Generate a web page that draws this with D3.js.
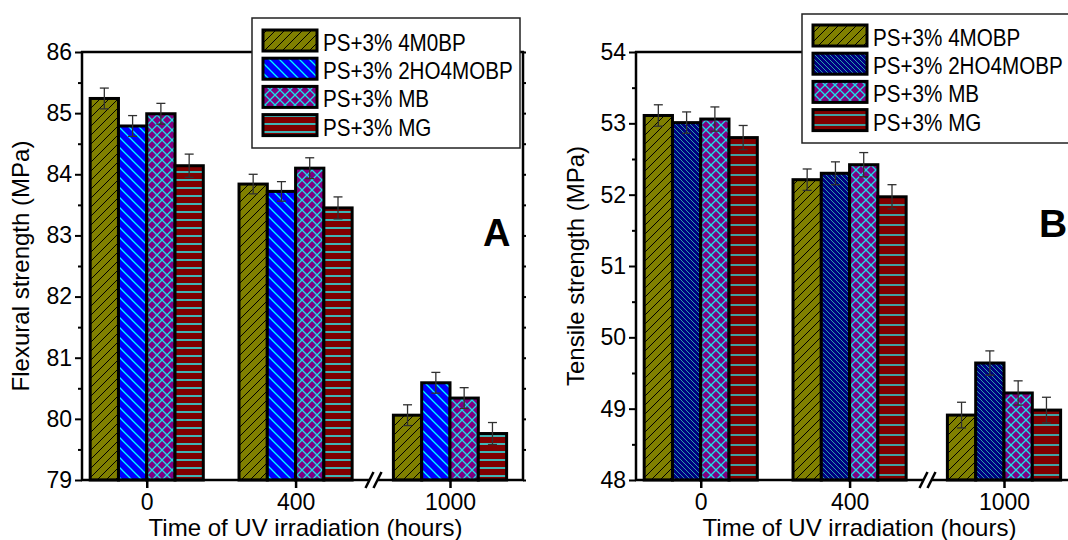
<!DOCTYPE html>
<html><head><meta charset="utf-8">
<script src="https://cdn.jsdelivr.net/npm/d3@7"></script>
<style>body{margin:0;background:#fff}svg{display:block}text{font-family:"Liberation Sans",Arial,sans-serif}</style>
</head><body><svg id="c" width="1068" height="540"></svg>
<script>
// ---------- data ----------
const times = [0, 400, 1000];
const timeLabels = ["0", "400", "1000"];
const seriesNamesA = ["PS+3% 4M0BP", "PS+3% 2HO4MOBP", "PS+3% MB", "PS+3% MG"];
const seriesNamesB = ["PS+3% 4MOBP", "PS+3% 2HO4MOBP", "PS+3% MB", "PS+3% MG"];

// Flexural strength (MPa), panel A
const flex4MOBP    = [85.24, 83.84, 80.06];
const flex2HO4MOBP = [84.79, 83.72, 80.59];
const flexMB       = [84.99, 84.10, 80.34];
const flexMG       = [84.14, 83.45, 79.76];
const flexErr4MOBP    = [0.17, 0.16, 0.17];
const flexErr2HO4MOBP = [0.17, 0.16, 0.17];
const flexErrMB       = [0.17, 0.17, 0.17];
const flexErrMG       = [0.19, 0.18, 0.18];

// Tensile strength (MPa), panel B
const tens4MOBP    = [53.11, 52.21, 48.91];
const tens2HO4MOBP = [53.01, 52.30, 49.64];
const tensMB       = [53.06, 52.42, 49.22];
const tensMG       = [52.80, 51.97, 48.98];
const tensErr4MOBP    = [0.15, 0.15, 0.18];
const tensErr2HO4MOBP = [0.15, 0.16, 0.17];
const tensErrMB       = [0.17, 0.17, 0.17];
const tensErrMG       = [0.17, 0.17, 0.18];

const flexTicks = [79, 80, 81, 82, 83, 84, 85, 86];
const tensTicks = [48, 49, 50, 51, 52, 53, 54];

// ---------- drawing ----------
const svg = d3.select("#c");
const defs = svg.append("defs");

function pattern(id, size, bg, build) {
  const p = defs.append("pattern").attr("id", id).attr("patternUnits", "userSpaceOnUse")
    .attr("width", size).attr("height", size);
  p.append("rect").attr("width", size).attr("height", size).attr("fill", bg);
  build(p, size);
}
function diagUp(p, s, col, w) { // "/"
  p.append("path").attr("d", `M0,${s} L${s},0 M${-s/2},${s/2} L${s/2},${-s/2} M${s/2},${s*1.5} L${s*1.5},${s/2}`)
    .attr("stroke", col).attr("stroke-width", w).attr("fill", "none");
}
function diagDown(p, s, col, w) { // "\"
  p.append("path").attr("d", `M0,0 L${s},${s} M${-s/2},${s/2} L${s/2},${s*1.5} M${s/2},${-s/2} L${s*1.5},${s/2}`)
    .attr("stroke", col).attr("stroke-width", w).attr("fill", "none");
}
function horiz(p, s, col, w) {
  p.append("path").attr("d", `M0,${s/2} L${s},${s/2}`).attr("stroke", col).attr("stroke-width", w);
}

pattern("olA", 9, "#808000", (p, s) => diagUp(p, s, "#000", 1));
pattern("blA", 10, "#0000ff", (p, s) => diagDown(p, s, "#00ffff", 1.3));
pattern("puA", 10, "#800080", (p, s) => { diagUp(p, s, "#19e0e6", 1.3); diagDown(p, s, "#19e0e6", 1.3); });
pattern("reA", 8, "#800000", (p, s) => horiz(p, s, "#40b4b4", 2));
pattern("olB", 9, "#808000", (p, s) => diagUp(p, s, "#000", 1));
pattern("blB", 5, "#000080", (p, s) => diagDown(p, s, "#2aa0a8", 1));
pattern("puB", 10, "#800080", (p, s) => { diagUp(p, s, "#19e0e6", 1.3); diagDown(p, s, "#19e0e6", 1.3); });
pattern("reB", 10, "#800000", (p, s) => horiz(p, s, "#30c8c8", 1.6));

const panels = [
  { left: 82, yDomain: [79, 86], ticks: flexTicks,
    values: [flex4MOBP, flex2HO4MOBP, flexMB, flexMG],
    errs: [flexErr4MOBP, flexErr2HO4MOBP, flexErrMB, flexErrMG],
    names: seriesNamesA, pats: ["olA", "blA", "puA", "reA"],
    ytitle: "Flexural strength (MPa)", ytitleX: 29,
    legend: { x: 252, y: 18, w: 268, h: 130, row0: 30 },
    letter: "A", letterX: 483, letterY: 246, letterSize: 38 },
  { left: 636, yDomain: [48, 54], ticks: tensTicks,
    values: [tens4MOBP, tens2HO4MOBP, tensMB, tensMG],
    errs: [tensErr4MOBP, tensErr2HO4MOBP, tensErrMB, tensErrMG],
    names: seriesNamesB, pats: ["olB", "blB", "puB", "reB"],
    ytitle: "Tensile strength (MPa)", ytitleX: 584,
    legend: { x: 802, y: 14, w: 290, h: 129, row0: 25 },
    letter: "B", letterX: 1039, letterY: 237, letterSize: 39 }
];

const W = 441, TOP = 52, BOT = 480, BW = 76;

panels.forEach(P => {
  const g = svg.append("g").attr("transform", `translate(${P.left},0)`);
  const x = d3.scaleLinear().domain([-174, 600, 804, 1196]).range([0, 288, 295, W]);
  const y = d3.scaleLinear().domain(P.yDomain).range([BOT, TOP]);

  // bars
  P.values.forEach((vals, s) => {
    g.append("g").selectAll("rect").data(vals).join("rect")
      .attr("x", (d, i) => x(times[i] + (s - 2) * BW))
      .attr("width", (d, i) => x(times[i] + (s - 1) * BW) - x(times[i] + (s - 2) * BW))
      .attr("y", d => y(d))
      .attr("height", d => y(P.yDomain[0]) - y(d))
      .attr("fill", `url(#${P.pats[s]})`)
      .attr("stroke", "#000").attr("stroke-width", 3);
  });
  // error bars
  P.values.forEach((vals, s) => {
    const eg = g.append("g").attr("stroke", "#303030").attr("stroke-width", 1.3);
    vals.forEach((v, i) => {
      const cx = x(times[i] + (s - 1.5) * BW), e = P.errs[s][i];
      eg.append("line").attr("x1", cx).attr("x2", cx).attr("y1", y(v + e)).attr("y2", y(v - e));
      eg.append("line").attr("x1", cx - 4.5).attr("x2", cx + 4.5).attr("y1", y(v + e)).attr("y2", y(v + e));
      eg.append("line").attr("x1", cx - 4.5).attr("x2", cx + 4.5).attr("y1", y(v - e)).attr("y2", y(v - e));
    });
  });

  const minors = P.ticks.slice(0, -1).map(t => t + 0.5);
  // left axis
  const la = g.append("g").call(d3.axisLeft(y).tickValues(P.ticks).tickSize(7).tickPadding(3).tickFormat(d3.format("d")));
  la.select(".domain").remove();
  la.selectAll("line").attr("stroke", "#000").attr("stroke-width", 2);
  la.selectAll("text").attr("font-size", 23).attr("fill", "#000").attr("font-family", '"Liberation Sans", Arial, sans-serif');
  const lm = g.append("g").call(d3.axisLeft(y).tickValues(minors).tickSize(4).tickFormat(""));
  lm.select(".domain").remove();
  lm.selectAll("line").attr("stroke", "#000").attr("stroke-width", 2);
  // right axis ticks
  const ra = g.append("g").attr("transform", `translate(${W},0)`)
    .call(d3.axisRight(y).tickValues(P.ticks.concat(minors)).tickSize(3).tickFormat(""));
  ra.select(".domain").remove();
  ra.selectAll("line").attr("stroke", "#000").attr("stroke-width", 2);
  // bottom axis
  const ba = g.append("g").attr("transform", `translate(0,${BOT})`)
    .call(d3.axisBottom(x).tickValues(times).tickSize(8).tickPadding(6).tickFormat((d, i) => timeLabels[i]));
  ba.select(".domain").remove();
  ba.selectAll("line").attr("stroke", "#000").attr("stroke-width", 2.5);
  ba.selectAll("text").attr("font-size", 23).attr("fill", "#000").attr("font-family", '"Liberation Sans", Arial, sans-serif');

  // frame lines
  const fr = g.append("g").attr("stroke", "#000").attr("stroke-width", 2.5).attr("fill", "none");
  const xb = (x(600) + x(804)) / 2;
  fr.append("line").attr("x1", 0).attr("x2", 0).attr("y1", TOP - 1).attr("y2", BOT + 1);
  fr.append("line").attr("x1", W).attr("x2", W).attr("y1", TOP - 1).attr("y2", BOT + 1);
  fr.append("line").attr("x1", -1).attr("x2", W + 1).attr("y1", TOP).attr("y2", TOP);
  fr.append("line").attr("x1", -1).attr("x2", xb - 4).attr("y1", BOT).attr("y2", BOT);
  fr.append("line").attr("x1", xb + 4).attr("x2", W + 1).attr("y1", BOT).attr("y2", BOT);
  [-4, 4].forEach(o => fr.append("line")
    .attr("x1", xb + o - 4).attr("y1", BOT + 8).attr("x2", xb + o + 4).attr("y2", BOT - 8));

  // axis titles
  svg.append("text").attr("transform", `translate(${P.ytitleX},${(TOP + BOT) / 2}) rotate(-90)`)
    .attr("text-anchor", "middle").attr("font-size", 24).attr("fill", "#000").text(P.ytitle);
  svg.append("text").attr("x", P.left + W / 2 + 3).attr("y", 536)
    .attr("text-anchor", "middle").attr("font-size", 24).attr("fill", "#000").text("Time of UV irradiation (hours)");
  // panel letter
  svg.append("text").attr("x", P.letterX).attr("y", P.letterY).attr("font-size", P.letterSize)
    .attr("font-weight", "bold").attr("fill", "#000").text(P.letter);

  // legend
  const L = P.legend;
  const lg = svg.append("g");
  lg.append("rect").attr("x", L.x).attr("y", L.y).attr("width", L.w).attr("height", L.h)
    .attr("fill", "#fff").attr("stroke", "#222").attr("stroke-width", 1.5);
  P.names.forEach((n, s) => {
    const ry = L.row0 + s * 28.2;
    lg.append("rect").attr("x", L.x + 11).attr("y", ry).attr("width", 54).attr("height", 21)
      .attr("fill", `url(#${P.pats[s]})`).attr("stroke", "#000").attr("stroke-width", 3);
    lg.append("text").attr("transform", `translate(${L.x + 71},${ry + 21}) scale(0.86,1)`)
      .attr("font-size", 24).attr("fill", "#000").text(n);
  });
});
</script>
</body></html>
